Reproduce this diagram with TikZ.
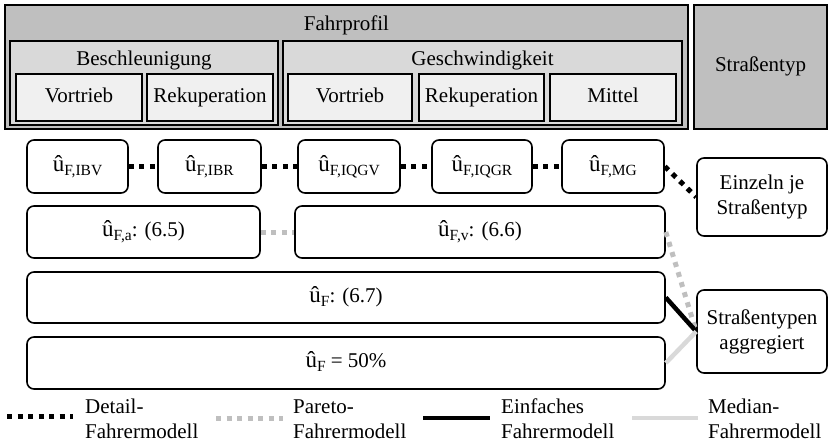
\documentclass[tikz,border=0pt]{standalone}
\usepackage{fontspec}
\setmainfont{Liberation Serif}
\newcommand{\uf}[1]{{\fontsize{23}{25}\selectfont û}\raisebox{-4pt}{\fontsize{15.5}{15}\selectfont #1}}
\begin{document}
\begin{tikzpicture}[x=1pt,y=-1pt,
  every node/.style={font=\fontsize{21}{25}\selectfont, inner sep=0pt},
  tl/.style={text height=14pt, text depth=4.5pt},
  outerbox/.style={draw, line width=1.8pt, fill=black!25},
  midbox/.style={draw, line width=1.8pt, fill=black!15},
  leafbox/.style={draw, line width=1.8pt, fill=black!6, tl},
  rbox/.style={draw, line width=1.6pt, rounded corners=7pt, fill=white, align=center},
  detail/.style={line width=5pt, dash pattern=on 5pt off 5.5pt},
  pareto/.style={line width=5pt, dash pattern=on 5pt off 5.5pt, color=black!25},
  einfach/.style={line width=4.5pt},
  median/.style={line width=4.5pt, color=black!15},
  legtext/.style={anchor=west, align=left}
]
\useasboundingbox (0,0) rectangle (829,445);

% top structure
\node[outerbox, minimum width=683pt, minimum height=124pt] (fp) at (346.5,67) {};
\node[tl] (fpt) at (346.5,26) {Fahrprofil};
\node[midbox, minimum width=268pt, minimum height=84pt] (besch) at (144,83) {};
\node[tl] (bescht) at (144,61) {Beschleunigung};
\node[midbox, minimum width=399pt, minimum height=84pt] (gesch) at (482.5,83) {};
\node[tl] (gescht) at (482.5,61) {Geschwindigkeit};
\node[leafbox, minimum width=126pt, minimum height=47pt] (v1) at (79,97.5) {Vortrieb};
\node[leafbox, minimum width=126pt, minimum height=47pt] (r1) at (210,97.5) {Rekuperation};
\node[leafbox, minimum width=124pt, minimum height=47pt] (v2) at (350,97.5) {Vortrieb};
\node[leafbox, minimum width=125pt, minimum height=47pt] (r2) at (481.5,97.5) {Rekuperation};
\node[leafbox, minimum width=126pt, minimum height=47pt] (mi) at (613,97.5) {Mittel};
\node[outerbox, tl, minimum width=133pt, minimum height=124pt] (st) at (760.5,67) {Straßentyp};

% row 1
\node[rbox, tl, minimum width=101pt, minimum height=53pt] (b1) at (77.5,166.5) {\uf{F,IBV}};
\node[rbox, tl, minimum width=103pt, minimum height=53pt] (b2) at (209.5,166.5) {\uf{F,IBR}};
\node[rbox, tl, minimum width=102pt, minimum height=53pt] (b3) at (349,166.5) {\uf{F,IQGV}};
\node[rbox, tl, minimum width=100pt, minimum height=53pt] (b4) at (482,166.5) {\uf{F,IQGR}};
\node[rbox, tl, minimum width=102pt, minimum height=53pt] (b5) at (613,166.5) {\uf{F,MG}};
\node[rbox, minimum width=130pt, minimum height=78pt] (ein) at (762,197) {Einzeln je\\Straßentyp};

% rows 2-4
\node[rbox, tl, minimum width=233pt, minimum height=52pt] (fa) at (143.5,232) {\uf{F,a}: (6.5)};
\node[rbox, tl, minimum width=370pt, minimum height=52pt] (fv) at (480,232) {\uf{F,v}: (6.6)};
\node[rbox, tl, minimum width=638pt, minimum height=51pt] (f67) at (346,297.5) {\uf{F}: (6.7)};
\node[rbox, tl, minimum width=638pt, minimum height=52pt] (f50) at (346,363) {\uf{F} = 50\%};
\node[rbox, minimum width=130pt, minimum height=83pt] (agg) at (762,331.5) {Straßentypen\\aggregiert};

% connectors
\draw[detail] (b1.east) -- (b2.west);
\draw[detail] (b2.east) -- (b3.west);
\draw[detail] (b3.east) -- (b4.west);
\draw[detail] (b4.east) -- (b5.west);
\draw[detail] (b5.east) -- (ein.west);
\draw[pareto] (fa.east) -- (fv.west);
\draw[pareto] (fv.east) -- (agg.west);
\draw[einfach] (f67.east) -- (agg.west);
\draw[median] (f50.east) -- (agg.west);

% legend
\coordinate (l1a) at (7,416); \coordinate (l1b) at (73,416);
\draw[detail] (l1a) -- (l1b);
\node[legtext] (t1) at (85,419) {Detail-\\Fahrermodell};
\coordinate (l2a) at (216,418); \coordinate (l2b) at (283,418);
\draw[pareto] (l2a) -- (l2b);
\node[legtext] (t2) at (293,419) {Pareto-\\Fahrermodell};
\coordinate (l3a) at (423,418); \coordinate (l3b) at (490,418);
\draw[einfach] (l3a) -- (l3b);
\node[legtext] (t3) at (501,419) {Einfaches\\Fahrermodell};
\coordinate (l4a) at (632,418); \coordinate (l4b) at (698,418);
\draw[median] (l4a) -- (l4b);
\node[legtext] (t4) at (708,419) {Median-\\Fahrermodell};
\end{tikzpicture}
\end{document}
